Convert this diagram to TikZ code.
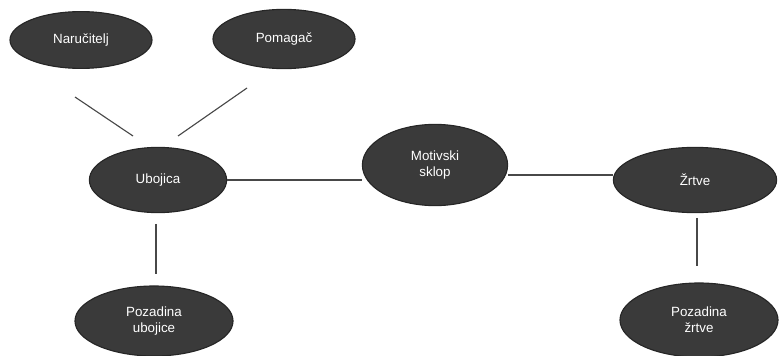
\documentclass[tikz,border=0pt]{standalone}
\usepackage{fontspec}
\setmainfont{Liberation Sans}
\usepackage{tikz}
\usetikzlibrary{shapes.geometric,calc}
\definecolor{nodeGray}{RGB}{58, 58, 58}
\definecolor{lineGray}{RGB}{72, 72, 72}

\begin{document}
\begin{tikzpicture}[x=0.025cm,y=-0.025cm,
    motif/.style={ellipse,fill=nodeGray,draw=black!85,line width=0.8pt,inner sep=0pt,
      text=white,align=center,font=\fontsize{9.5}{11.5}\selectfont},
    link/.style={lineGray,line width=0.8pt}]
    \useasboundingbox (0,0) rectangle (780,355);
    % Story elements
    \node[motif,minimum width=3.55cm,minimum height=1.42cm] (narucitelj) at (81,40) {Naručitelj};
    \node[motif,minimum width=3.55cm,minimum height=1.48cm] (pomagac) at (284,39) {Pomagač};
    \node[motif,minimum width=3.43cm,minimum height=1.63cm] (ubojica) at (158,180) {Ubojica};
    \node[motif,minimum width=3.63cm,minimum height=2.03cm] (motiv) at (435,165) {Motivski\\sklop};
    \node[motif,minimum width=4.08cm,minimum height=1.63cm] (zrtve) at (695,180) {Žrtve};
    \node[motif,minimum width=3.95cm,minimum height=1.75cm] (pozUbojice) at (154,321) {Pozadina\\ubojice};
    \node[motif,minimum width=3.95cm,minimum height=1.85cm] (pozZrtve) at (699,320) {Pozadina\\žrtve};
    % Loose ends of the upper links
    \coordinate (narTop) at (75,97);
    \coordinate (narBot) at (133,136);
    \coordinate (pomTop) at (247,88);
    \coordinate (pomBot) at (178,136);
    \draw[link] (narTop) -- (narBot);
    \draw[link] (pomTop) -- (pomBot);
    % Main chain
    \coordinate (ubSouth) at ($(ubojica.south)+(-2,0)$);
    \coordinate (zrSouth) at ($(zrtve.south)+(2,0)$);
    \draw[link] (ubojica.east) -- (ubojica.east -| motiv.west);
    \draw[link] ($(motiv.east)+(0,10)$) -- ($(zrtve.west)+(0,-5)$);
    \draw[link,shorten <=0.27cm,shorten >=0.28cm] (ubSouth) -- (ubSouth |- pozUbojice.north);
    \draw[link,shorten <=0.12cm,shorten >=0.4cm] (zrSouth) -- (zrSouth |- pozZrtve.north);
\end{tikzpicture}
\end{document}
